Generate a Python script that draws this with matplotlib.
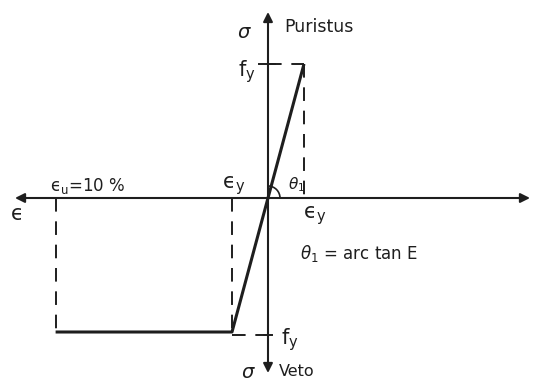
import matplotlib.pyplot as plt
from matplotlib.patches import Arc

# Values of the idealised steel diagram (strain in units of eps_y, stress in units of f_y)
eps_y = 1.0
eps_u = 5.9
f_y = 1.0
# loading path: yielding in tension (left/down), elastic up to f_y in compression
path_eps = [-eps_u, -eps_y, eps_y]
path_sig = [-f_y, -f_y, f_y]

plt.rcParams['font.family'] = ['DejaVu Sans']
plt.rcParams['mathtext.fontset'] = 'dejavusans'

fig = plt.figure(figsize=(5.55, 3.83), dpi=100)
ax = fig.add_axes([0, 0, 1, 1])
# pixel mapping: x_px = 268 + 36*x, y_px = 198 - 134*y
ax.set_xlim(-268 / 36, 287 / 36)
ax.set_ylim(-185 / 134, 198 / 134)
ax.axis('off')

ink = '#1e1e1e'

# axes with arrow heads
ax.annotate('', xy=(-253 / 36, 0), xytext=(262 / 36, 0),
            arrowprops=dict(arrowstyle='<|-|>', color=ink, lw=1.5,
                            mutation_scale=14, shrinkA=0, shrinkB=0))
ax.annotate('', xy=(0, 186 / 134), xytext=(0, -175 / 134),
            arrowprops=dict(arrowstyle='<|-|>', color=ink, lw=1.5,
                            mutation_scale=14, shrinkA=0, shrinkB=0))

# main stress-strain line
ax.plot(path_eps, path_sig, color=ink, lw=2.2, solid_capstyle='butt')

# dashed guides
dash = dict(color=ink, lw=1.4, dashes=(7, 5))
ax.plot([0, eps_y], [f_y, f_y], **dash)
ax.plot([eps_y, eps_y], [f_y, 0], **dash)
ax.plot([-eps_y, -eps_y], [0, -f_y], **dash)
ax.plot([-eps_y, 0], [-f_y - 0.02, -f_y - 0.02], **dash)
ax.plot([-eps_u, -eps_u], [0, -f_y], **dash)

# small ticks
ax.plot([-0.25, 0.2], [f_y, f_y], color=ink, lw=1.4)
ax.plot([-0.1, 0.1], [-f_y - 0.02, -f_y - 0.02], color=ink, lw=1.4)

# angle arc
ax.add_patch(Arc((0, 0), 2 * 12 / 36, 2 * 12 / 134, theta1=0, theta2=75,
                 color=ink, lw=1.2))

kw = dict(color=ink, va='center')
ax.text(-0.45, 166 / 134, r'$\sigma$', fontsize=14, ha='right', **kw)
ax.text(0.45, 171 / 134, 'Puristus', fontsize=12.5, ha='left', **kw)
ax.text(-0.35, 126 / 134, r'f$_\mathregular{y}$', fontsize=15, ha='right', **kw)
ax.text(-7.15, -0.12, 'ϵ', fontsize=15, ha='left', **kw)
ax.text(-6.05, 0.09, r'ϵ$_\mathregular{u}$=10 %', fontsize=12, ha='left', **kw)
ax.text(-0.95, 0.09, r'ϵ$_\mathregular{y}$', fontsize=15, ha='center', **kw)
ax.text(0.55, 0.1, r'$\theta_\mathregular{1}$', fontsize=11, ha='left', **kw)
ax.text(1.3, -0.13, r'ϵ$_\mathregular{y}$', fontsize=15, ha='center', **kw)
ax.text(0.9, -55 / 134, r'$\theta_\mathregular{1}$ = arc tan E', fontsize=12, ha='left', **kw)
ax.text(0.35, -f_y - 0.06, r'f$_\mathregular{y}$', fontsize=15, ha='left', **kw)
ax.text(-0.35, -174 / 134, r'$\sigma$', fontsize=14, ha='right', **kw)
ax.text(0.3, -174 / 134, 'Veto', fontsize=11.5, ha='left', **kw)

fig.savefig('out.png', dpi=100)
